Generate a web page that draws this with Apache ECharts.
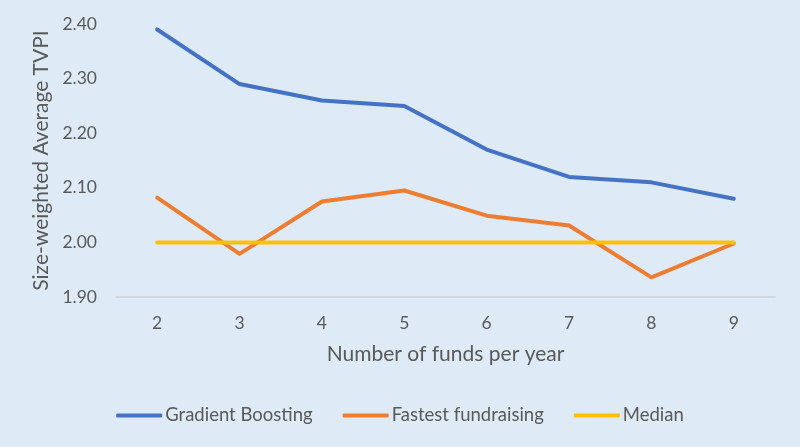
<!DOCTYPE html>
<html><head><meta charset="utf-8">
<script src="https://cdn.jsdelivr.net/npm/echarts@6/dist/echarts.min.js"></script>
<style>html,body{margin:0;padding:0;background:#deeaf6;}#c{width:800px;height:447px;}</style>
</head><body><div id="c"></div>
<script>
const categories = ['2','3','4','5','6','7','8','9'];
const gradientBoosting = [2.39, 2.29, 2.26, 2.25, 2.17, 2.12, 2.11, 2.08];
const fastestFundraising = [2.082, 1.979, 2.075, 2.095, 2.049, 2.031, 1.936, 1.998];
const median = [2.00, 2.00, 2.00, 2.00, 2.00, 2.00, 2.00, 2.00];
const FONT = 'Lato';
const TXT = '#595959';
const chart = echarts.init(document.getElementById('c'));
const mk = (name, data, color) => ({
  name, type: 'line', data, symbol: 'none', smooth: false,
  lineStyle: { width: 4, color, cap: 'round', join: 'round' }, itemStyle: { color }
});
chart.setOption({
  backgroundColor: '#deeaf6',
  animation: false,
  textStyle: { fontFamily: FONT },
  grid: { left: 116, right: 25, top: 24, bottom: 150 },
  legend: {
    bottom: 17, left: 'center', itemWidth: 46, itemHeight: 4, itemGap: 30,
    icon: 'roundRect',
    textStyle: { color: TXT, fontSize: 18.5, fontFamily: FONT, padding: [0, 0, 0, -2] },
    data: ['Gradient Boosting', 'Fastest fundraising', 'Median']
  },
  xAxis: {
    type: 'category', data: categories, boundaryGap: true,
    name: 'Number of funds per year', nameLocation: 'middle', nameGap: 47,
    nameTextStyle: { color: TXT, fontSize: 21, fontFamily: FONT },
    axisLine: { lineStyle: { color: '#d0d4d9', width: 1.5 } },
    axisTick: { show: false },
    axisLabel: { color: TXT, fontSize: 17.5, margin: 17, fontFamily: FONT }
  },
  yAxis: {
    type: 'value', min: 1.9, max: 2.4, interval: 0.1,
    name: 'Size-weighted Average TVPI', nameLocation: 'middle', nameGap: 62,
    nameTextStyle: { color: TXT, fontSize: 21, fontFamily: FONT },
    axisLine: { show: false }, axisTick: { show: false },
    splitLine: { show: false },
    axisLabel: { color: TXT, fontSize: 17.5, margin: 19, fontFamily: FONT, formatter: v => v.toFixed(2) }
  },
  series: [
    mk('Gradient Boosting', gradientBoosting, '#4472c4'),
    mk('Fastest fundraising', fastestFundraising, '#ed7d31'),
    mk('Median', median, '#ffc000')
  ]
});
</script></body></html>
